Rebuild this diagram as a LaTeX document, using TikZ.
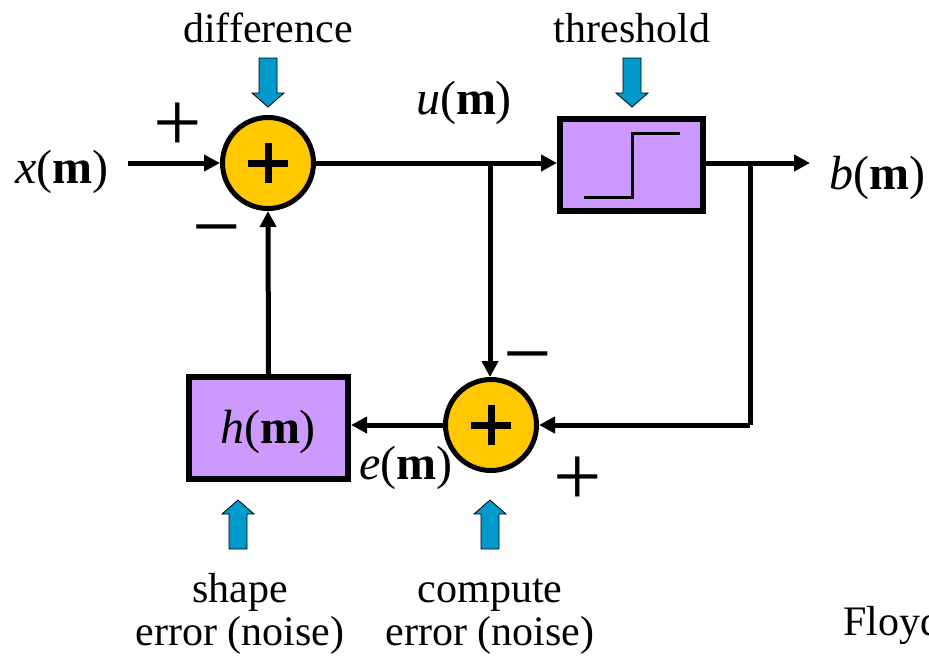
\documentclass[tikz,border=0pt]{standalone}
\usepackage{fontspec}
\setmainfont{Liberation Serif}
\usetikzlibrary{arrows.meta}
\definecolor{sumyellow}{HTML}{FFC800}
\definecolor{boxpurple}{HTML}{CC99FF}
\definecolor{hintblue}{HTML}{0099CC}
\newcommand{\sig}[1]{\textit{#1}(\textbf{m})}
\begin{document}
\begin{tikzpicture}[x=1pt,y=-1pt,
  lbl/.style={anchor=base,inner sep=0pt,font=\fontsize{42}{48}\selectfont},
  siglbl/.style={anchor=base,inner sep=0pt,font=\fontsize{48}{54}\selectfont},
  signlbl/.style={anchor=base,inner sep=0pt,font=\fontsize{86}{90}\selectfont},
  sumnode/.style={circle,draw=black,line width=5pt,fill=sumyellow,minimum size=91pt,inner sep=0pt},
  blockbox/.style={rectangle,draw=black,line width=6pt,fill=boxpurple,inner sep=0pt},
  wire/.style={line width=5pt,draw=black},
  arr/.style={wire,-{Triangle[length=16pt,width=16pt]}},
  hint/.style={draw=black,line width=0.8pt,fill=hintblue},
  bluedown/.pic={\path[hint] (-9,-24) -- (9,-24) -- (9,11) -- (16,11) -- (0,25) -- (-16,11) -- (-9,11) -- cycle;}
]
\useasboundingbox (0,0) rectangle (929,657);
% summing junctions
\node[sumnode] (add1) at (268,163) {};
\node[sumnode] (add2) at (491,425) {};
\foreach \n in {add1,add2}{
  \draw[line width=7pt] ([xshift=-20pt]\n.center) -- ([xshift=20pt]\n.center);
  \draw[line width=7pt] ([yshift=-20pt]\n.center) -- ([yshift=20pt]\n.center);
}
% blocks
\node[blockbox,minimum width=143pt,minimum height=92pt] (thr) at (631.5,165) {};
\draw[line width=3pt] (584,197) -- (632,197) -- (632,133) -- (680,133);
\node[blockbox,minimum width=159pt,minimum height=102pt] (hbox) at (268.5,428) {};
\node[siglbl] (hlbl) at (268,443) {\sig{h}};
% signal labels
\node[siglbl] (xlbl) at (62,183) {\sig{x}};
\node[siglbl] (blbl) at (877,189) {\sig{b}};
\node[siglbl] (ulbl) at (464,114) {\sig{u}};
\node[siglbl] (elbl) at (406,479) {\sig{e}};
\node[signlbl] (plus1) at (178,151) {+};
\node[signlbl] (minus1) at (217,255) {\textminus};
\node[signlbl] (minus2) at (528,382) {\textminus};
\node[signlbl] (plus2) at (578,505) {+};
% coordinates
\coordinate (xin) at (128,163);
\coordinate (br1) at (490,163);
\coordinate (br2) at (750,163);
\coordinate (bout) at (810,163);
\coordinate (c2) at (750,425);
% connectors
\draw[arr] (xin) -- (add1.west);
\draw[arr] (add1.east) -- (add1.east -| thr.west);
\draw[arr] (br1) -- (br1 |- add2.north);
\draw[arr] (thr.east |- bout) -- (bout);
\draw[wire] (br2) -- (c2);
\draw[arr] (c2) -- (add2.east);
\draw[arr] (add2.west) -- (add2.west -| hbox.east);
\draw[arr] (hbox.north) -- (add1.south);
% hint arrows
\pic at (268,82) {bluedown};
\pic at (632,82) {bluedown};
\pic[rotate=180] at (238,525) {bluedown};
\pic[rotate=180] at (490,525) {bluedown};
% annotation texts
\node[lbl] (tdiff) at (268,42) {difference};
\node[lbl] (tthr) at (632,42) {threshold};
\node[lbl] (tshape) at (240,602) {shape};
\node[lbl] (tshape2) at (240,645) {error (noise)};
\node[lbl] (tcomp) at (490,602) {compute};
\node[lbl] (tcomp2) at (490,645) {error (noise)};
\node[lbl,anchor=base west] (tfloyd) at (843,635) {Floyd};
\end{tikzpicture}
\end{document}
